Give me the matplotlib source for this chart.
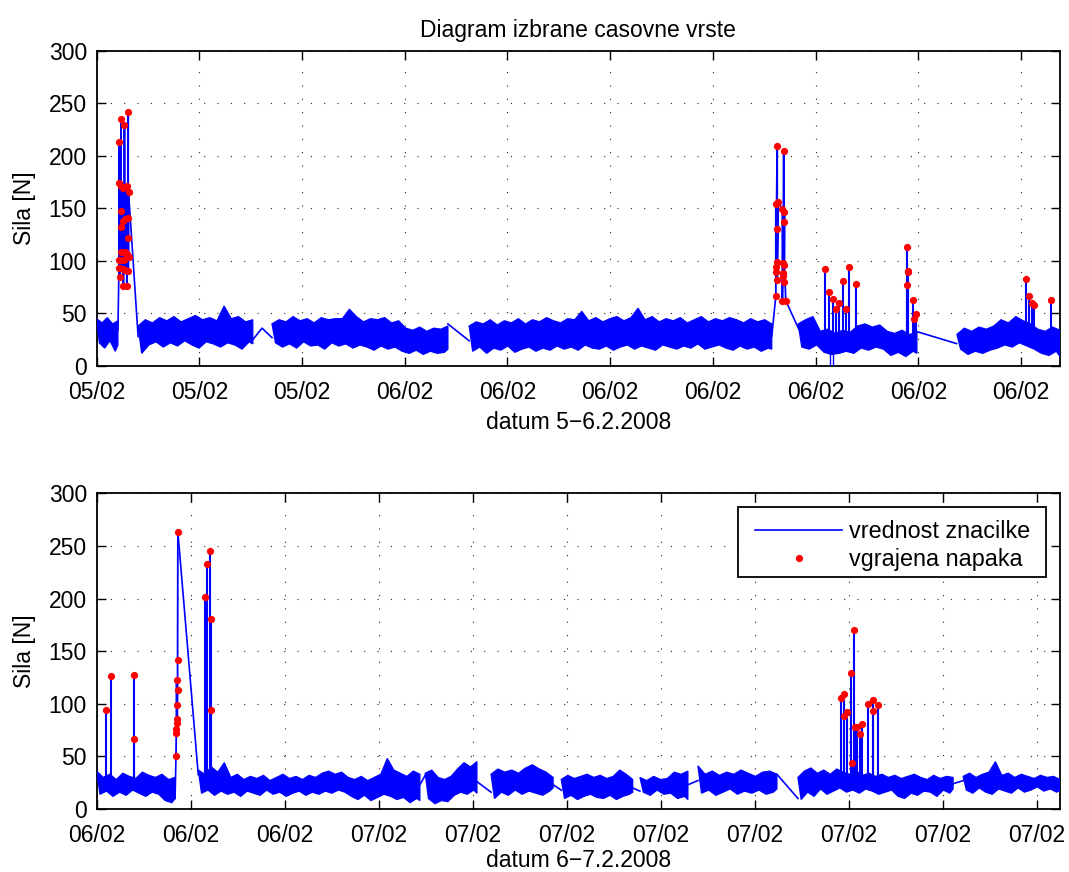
import numpy as np
import matplotlib
matplotlib.use('Agg')
import matplotlib.pyplot as plt
import matplotlib.dates as mdates
from matplotlib.lines import Line2D
from matplotlib.patches import Rectangle

plt.rcParams['font.family'] = ['Liberation Sans', 'DejaVu Sans']
FS = 16.5
BLUE = (0, 0, 1)
RED = (1, 0, 0)

# ---------------- data (hours after 15:00 on the first day of each panel) ----------------
title = 'Diagram izbrane casovne vrste'
ylabel = 'Sila [N]'
top_xlabel = 'datum 5\u22126.2.2008'
bot_xlabel = 'datum 6\u22127.2.2008'
legend_labels = ['vrednost znacilke', 'vgrajena napaka']
y_ticks = [0, 50, 100, 150, 200, 250, 300]

top_start = '2008-02-05T15:00'
top_end_h = 28.14
bot_start = '2008-02-06T15:00'
bot_end_h = 30.73

# ---- top panel: noisy baseline envelope per recorded segment ----
top_band_t0 = [0.0, 1.21, 5.12, 10.88, 20.49, 25.13]
top_band_t1 = [0.62, 4.56, 10.26, 19.72, 23.96, 28.14]
top_band_hi = [
    [45, 41, 46, 40, 43],
    [38, 44, 41, 46, 43, 47, 42, 45, 48, 44, 46, 43, 57, 45, 47, 42, 44],
    [40, 44, 42, 47, 43, 45, 41, 46, 44, 45, 45, 54, 47, 42, 45, 44, 46, 41, 43, 36,
     34, 37, 33, 36, 35, 38],
    [38, 42, 40, 44, 39, 43, 41, 45, 40, 44, 42, 46, 43, 41, 45, 44, 52, 43, 46, 42,
     45, 47, 43, 46, 55, 44, 47, 42, 45, 43, 46, 41, 44, 47, 42, 45, 43, 46, 44, 41,
     45, 42, 44, 40],
    [40, 44, 47, 33, 35, 31, 34, 32, 38, 40, 37, 39, 33, 31, 34, 30, 32],
    [30, 36, 33, 37, 35, 38, 44, 41, 47, 43, 40, 35, 33, 37, 34],
]
top_band_lo = [
    [22, 17, 24, 14, 20],
    [12, 20, 23, 18, 22, 19, 24, 20, 17, 23, 21, 18, 22, 20, 16, 23, 21],
    [22, 18, 21, 17, 23, 19, 20, 16, 22, 19, 21, 17, 20, 18, 15, 19, 16, 18, 14, 12,
     15, 11, 14, 12, 13, 16],
    [14, 18, 12, 17, 15, 19, 13, 16, 18, 14, 17, 15, 19, 16, 18, 15, 20, 17, 16, 19,
     15, 18, 20, 16, 19, 17, 15, 20, 18, 16, 19, 17, 21, 16, 18, 20, 17, 15, 19, 16,
     18, 14, 17, 16],
    [18, 16, 20, 13, 11, 12, 14, 12, 17, 15, 18, 16, 10, 13, 9, 14, 12],
    [16, 11, 14, 12, 15, 17, 20, 18, 22, 19, 16, 12, 10, 14, 9],
]
# connecting lines across data gaps (NaN separates pieces)
top_link_t = [0.62, 0.65, np.nan, 0.93, 1.21, np.nan, 4.56, 4.83, 5.12, np.nan,
              10.26, 10.88, np.nan, 19.72, 19.84, np.nan, 20.13, 20.51, np.nan, 23.96, 25.12]
top_link_v = [34, 93.6, np.nan, 165.7, 28, np.nan, 25, 36, 27, np.nan,
              40, 24, np.nan, 28, 67, np.nan, 62.2, 35, np.nan, 32.7, 21.3]
# bursts of inserted faults (line runs through every fault value)
top_burst1_t = [0.65, 0.65, 0.66, 0.66, 0.68, 0.70, 0.70, 0.70, 0.71, 0.71, 0.73, 0.76,
                0.78, 0.78, 0.78, 0.80, 0.81, 0.82, 0.83, 0.83, 0.88, 0.88, 0.88, 0.89,
                0.91, 0.91, 0.92, 0.92, 0.93, 0.93]
top_burst1_v = [93.6, 212.7, 174, 101, 85, 147, 108, 132.7, 235, 170.8, 101, 92.7,
                169, 76, 137.5, 101, 229.5, 140, 108, 91.4, 171.7, 76, 107, 103.5,
                140.6, 122, 242, 90.8, 104, 165.7]
top_burst2_t = [19.84, 19.84, 19.84, 19.84, 19.88, 19.88, 19.88, 19.88, 19.91, 20.03,
                20.03, 20.04, 20.06, 20.06, 20.07, 20.07, 20.08, 20.09, 20.09, 20.13]
top_burst2_v = [67, 154.3, 89.2, 94.6, 208.9, 81.9, 130.8, 98.7, 155.6, 149.5,
                62.2, 88.3, 97.8, 86, 204.1, 136.8, 79.7, 146.9, 95.9, 62.2]
# isolated fault spikes
top_spike_t = [21.27, 21.40, 21.52, 21.61, 21.68, 21.81, 21.88, 21.99, 22.19, 23.68,
               23.69, 23.69, 23.68, 23.86, 23.87, 23.93, 27.15, 27.23, 27.32, 27.38, 27.88]
top_spike_v = [92.4, 70.2, 64.1, 54.6, 59.7, 81.3, 54, 94.6, 78.1, 113.6,
               90.8, 89.8, 77.1, 62.9, 45.1, 49.2, 82.9, 66.7, 59.7, 58.1, 63.2]
# short downward glitches
top_dip_t = [21.43, 21.50]
top_dip_v = [-5, -5]

# ---- bottom panel ----
bot_band_t0 = [0.0, 3.24, 10.48, 12.58, 14.82, 17.33, 19.18, 22.37, 27.64]
bot_band_t1 = [2.50, 10.31, 12.13, 14.56, 17.10, 18.86, 21.70, 27.32, 30.73]
bot_band_hi = [
    [36, 30, 33, 28, 34, 31, 29, 35, 32, 30, 33, 28, 30],
    [37, 33, 40, 35, 44, 30, 33, 28, 31, 29, 32, 27, 30, 33, 29, 31, 28, 32, 30, 34,
     36, 33, 35, 30, 28, 31, 27, 30, 33, 48, 37, 34, 31, 36, 33],
    [34, 37, 30, 28, 31, 38, 44, 40, 45],
    [33, 38, 35, 37, 34, 39, 42, 38, 35, 30],
    [28, 32, 29, 31, 33, 30, 32, 29, 31, 37, 33, 28],
    [30, 27, 31, 28, 29, 35, 33, 36],
    [41, 33, 36, 32, 35, 33, 37, 34, 31, 35, 36, 33],
    [30, 36, 39, 34, 37, 33, 38, 35, 33, 36, 32, 34, 31, 33, 30, 32, 29, 31, 33, 30,
     28, 32, 29, 31, 30],
    [31, 34, 30, 33, 35, 45, 32, 34, 30, 33, 31, 29, 32, 30, 31, 28],
]
bot_band_lo = [
    [14, 17, 12, 16, 13, 18, 15, 12, 16, 14, 8, 6, 10],
    [15, 18, 13, 17, 14, 16, 12, 17, 15, 13, 18, 14, 16, 12, 15, 17, 13, 16, 14, 17,
     15, 18, 16, 12, 9, 13, 8, 11, 14, 12, 9, 11, 6, 10, 8],
    [10, 5, 8, 7, 13, 16, 14, 18, 15],
    [10, 16, 13, 18, 14, 17, 15, 13, 17, 20],
    [10, 13, 9, 12, 14, 11, 10, 13, 9, 12, 14, 16],
    [16, 13, 18, 14, 15, 10, 12, 9],
    [15, 18, 13, 16, 19, 14, 17, 15, 18, 14, 16, 19],
    [9, 16, 12, 19, 14, 17, 20, 16, 18, 15, 19, 17, 14, 16, 18, 12, 10, 15, 13, 17,
     16, 12, 18, 15, 19],
    [18, 15, 20, 16, 14, 19, 17, 15, 20, 16, 18, 21, 17, 19, 16, 18],
]
bot_link_t = [2.50, 2.53, np.nan, 2.59, 3.24, np.nan, 10.31, 10.48, np.nan, 12.13, 12.58,
              np.nan, 14.56, 14.82, np.nan, 17.10, 17.33, np.nan, 18.86, 19.18, np.nan,
              21.70, 22.37, np.nan, 27.32, 27.64]
bot_link_v = [10, 50.4, np.nan, 263.2, 32.6, np.nan, 23, 32, np.nan, 26, 16,
              np.nan, 23, 18, np.nan, 20, 17, np.nan, 23, 27, np.nan,
              33, 10, np.nan, 24, 27]
bot_burst1_t = [2.53, 2.54, 2.54, 2.55, 2.56, 2.56, 2.57, 2.58, 2.58, 2.59]
bot_burst1_v = [50.4, 75.7, 71.9, 122.3, 82, 98.8, 85.2, 112.8, 141.9, 263.2]
bot_spike_t = [0.29, 0.45, 1.19, 1.20, 3.46, 3.52, 3.61, 3.65, 3.66, 23.73, 23.83,
               23.84, 23.94, 24.05, 24.09, 24.15, 24.19, 24.25, 24.36, 24.43, 24.61,
               24.75, 24.75, 24.92]
bot_spike_v = [94, 126.7, 127.3, 66.5, 201.8, 232.8, 245.5, 180.6, 94.4, 105.8, 109,
               88.1, 91.9, 129, 44, 170.4, 78.2, 78.2, 71.6, 80.8, 99.8,
               103.6, 93.4, 98.5]


# ---------------- drawing ----------------
def to_x(start, hours):
    d0 = mdates.date2num(np.datetime64(start))
    return d0 + np.asarray(hours, dtype=float) / 24.0


def draw_panel(ax, start, end_h, t0s, t1s, his, los, link_t, link_v,
               bursts, spike_t, spike_v, base, dip_t=None, dip_v=None):
    for t0, t1, hi, lo in zip(t0s, t1s, his, los):
        tt = np.linspace(t0, t1, len(hi))
        half = (t1 - t0) / (len(hi) - 1) / 2.0
        tb = np.minimum(tt + half, t1)
        px = np.concatenate([to_x(start, tt), to_x(start, tb[::-1])])
        py = np.concatenate([np.asarray(hi, float), np.asarray(lo, float)[::-1]])
        ax.fill(px, py, facecolor=BLUE, edgecolor=BLUE, lw=0.9, zorder=3)
    ax.plot(to_x(start, link_t), link_v, color=BLUE, lw=1.2, zorder=3)
    mt, mv = [], []
    for bt, bv in bursts:
        ax.plot(to_x(start, bt), bv, color=BLUE, lw=1.3, zorder=3)
        mt += list(bt)
        mv += list(bv)
    ax.vlines(to_x(start, spike_t), base, spike_v, color=BLUE, lw=1.5, zorder=3)
    if dip_t is not None:
        ax.vlines(to_x(start, dip_t), base - 10, dip_v, color=BLUE, lw=1.0, zorder=3)
    mt += list(spike_t)
    mv += list(spike_v)
    ax.plot(to_x(start, mt), mv, ls='none', marker='o', ms=5.2,
            mfc=RED, mec='none', zorder=4)

    ax.set_xlim(to_x(start, 0.0), to_x(start, end_h))
    ax.set_ylim(0, 300)
    ax.set_yticks(y_ticks)
    ax.xaxis.set_major_locator(mdates.HourLocator(byhour=range(0, 24, 3)))
    ax.xaxis.set_major_formatter(mdates.DateFormatter('%d/%m'))
    ax.grid(True, color='k', linestyle=(0, (1, 11)), lw=0.8, alpha=0.85)
    ax.set_axisbelow(True)
    ax.tick_params(direction='in', top=True, right=True, length=6.5, width=1.0,
                   labelsize=FS, pad=7)
    ax.tick_params(axis='x', pad=10.5)
    for s in ax.spines.values():
        s.set_linewidth(1.3)
    ax.set_ylabel(ylabel, fontsize=FS, labelpad=9)


fig = plt.figure(figsize=(10.69, 8.72), dpi=100)
ax1 = fig.add_axes([0.09046, 0.5803, 0.9011, 0.3616])
ax2 = fig.add_axes([0.09046, 0.07225, 0.9011, 0.3620])

draw_panel(ax1, top_start, top_end_h, top_band_t0, top_band_t1, top_band_hi, top_band_lo,
           top_link_t, top_link_v,
           [(top_burst1_t, top_burst1_v), (top_burst2_t, top_burst2_v)],
           top_spike_t, top_spike_v, 28, top_dip_t, top_dip_v)
ax1.set_title(title, fontsize=FS, pad=10)
ax1.set_xlabel(top_xlabel, fontsize=FS, labelpad=5)

draw_panel(ax2, bot_start, bot_end_h, bot_band_t0, bot_band_t1, bot_band_hi, bot_band_lo,
           bot_link_t, bot_link_v, [(bot_burst1_t, bot_burst1_v)],
           bot_spike_t, bot_spike_v, 22)
ax2.set_xlabel(bot_xlabel, fontsize=FS, labelpad=2)

# legend: box drawn separately so that its inner margins match the reference
box = Rectangle((0.6657, 0.7349), 0.3198, 0.2217, transform=ax2.transAxes,
                facecolor='white', edgecolor='k', lw=1.3, zorder=9)
ax2.add_patch(box)
h_line = Line2D([], [], color=BLUE, lw=1.2)
h_pts = Line2D([], [], ls='none', marker='o', ms=5.2, mfc=RED, mec='none')
leg = ax2.legend([h_line, h_pts], legend_labels, loc='upper left', fontsize=16.8,
                 frameon=False, handlelength=3.75, handletextpad=0.3,
                 borderpad=0.0, borderaxespad=0.0, labelspacing=0.2,
                 bbox_to_anchor=(0.6832, 0.9150), bbox_transform=ax2.transAxes)
leg.set_zorder(10)

fig.savefig('out.png', dpi=100, facecolor='white')
